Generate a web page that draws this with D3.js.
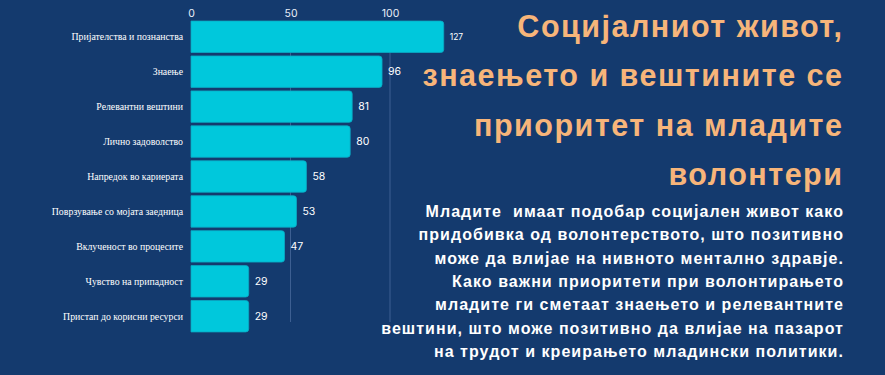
<!DOCTYPE html>
<html><head><meta charset="utf-8">
<script src="https://cdn.jsdelivr.net/npm/d3@7"></script>
<style>
html,body{margin:0;padding:0;background:#143a6e;}
svg{display:block;}
text{white-space:pre;}
</style></head>
<body>
<svg id="c" width="885" height="375"></svg>
<script>
const categories = ["Пријателства и познанства","Знаење","Релевантни вештини","Лично задоволство","Напредок во кариерата","Поврзување со мојата заедница","Вклученост во процесите","Чувство на припадност","Пристап до корисни ресурси"];
const values = [127,96,81,80,58,53,47,29,29];
const tickValues = [0,50,100];
const titleLines = ["Социјалниот живот,","знаењето и вештините се","приоритет на младите","волонтери"];
const bodyLines = ["Младите  имаат подобар социјален живот како","придобивка од волонтерството, што позитивно","може да влијае на нивното ментално здравје.","Како важни приоритети при волонтирањето","младите ги сметаат знаењето и релевантните","вештини, што може позитивно да влијае на пазарот","на трудот и креирањето младински политики."];

const svg = d3.select("#c");
svg.append("rect").attr("width",885).attr("height",375).attr("fill","#143a6e");

const x = d3.scaleLinear().domain([0,100]).range([191,390]);
const y = d3.scaleBand().domain(categories).range([20,333]).paddingInner(0.1).paddingOuter(0.03);

// gridlines
svg.append("g").selectAll("line").data(tickValues.filter(d=>d>0)).join("line")
  .attr("x1",d=>x(d)).attr("x2",d=>x(d)).attr("y1",21).attr("y2",322)
  .attr("stroke","#3d5f92").attr("stroke-width",1);

// top axis
const ax = svg.append("g").attr("transform","translate(0,21)")
  .call(d3.axisTop(x).tickValues(tickValues).tickSize(0).tickPadding(4));
ax.select(".domain").remove();
ax.selectAll("text").attr("fill","#e8eef8").attr("font-family","Inter, 'Open Sans', sans-serif").attr("font-size",10.5);

// bars
svg.append("g").selectAll("path").data(values).join("path")
  .attr("d",(d,i)=>{
    const x0=x(0), x1=x(d), y0=y(categories[i]), h=y.bandwidth(), r=3;
    return `M${x0},${y0}H${x1-r}Q${x1},${y0} ${x1},${y0+r}V${y0+h-r}Q${x1},${y0+h} ${x1-r},${y0+h}H${x0}Z`;
  })
  .attr("fill","#00c8dc").attr("stroke","#0aa9c4").attr("stroke-width",0.8);

// category labels
svg.append("g").selectAll("text").data(categories).join("text")
  .attr("x",183).attr("y",d=>y(d)+y.bandwidth()/2).attr("dy","0.35em")
  .attr("text-anchor","end").attr("fill","#ffffff")
  .attr("font-family","'Liberation Serif','DejaVu Serif',serif").attr("font-size",9.8)
  .text(d=>d);

// value labels
svg.append("g").selectAll("text").data(values).join("text")
  .attr("x",d=>x(d)+6).attr("y",(d,i)=>y(categories[i])+y.bandwidth()/2).attr("dy","0.35em")
  .attr("fill","#ffffff").attr("font-family","Inter, 'Open Sans', sans-serif")
  .attr("font-size",(d,i)=>i===0?8.5:10.5)
  .text(d=>d);

// title
svg.append("g").selectAll("text").data(titleLines).join("text")
  .attr("x",843.5).attr("y",(d,i)=>37+i*49.3).attr("text-anchor","end")
  .attr("fill","#f7b57a").attr("font-family","'Liberation Sans',Arial,sans-serif")
  .attr("font-weight","bold").attr("font-size",30.5).attr("letter-spacing",1.5)
  .text(d=>d);

// body
svg.append("g").selectAll("text").data(bodyLines).join("text")
  .attr("x",844).attr("y",(d,i)=>217+i*23.3).attr("text-anchor","end")
  .attr("fill","#ffffff").attr("font-family","'Liberation Sans',Arial,sans-serif")
  .attr("font-weight","bold").attr("font-size",16).attr("letter-spacing",1.05)
  .text(d=>d);
</script>
</body></html>
